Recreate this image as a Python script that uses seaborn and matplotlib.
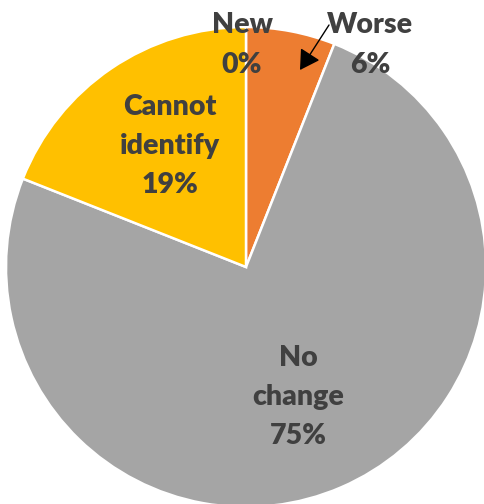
import matplotlib
matplotlib.use("Agg")
import matplotlib.pyplot as plt
import seaborn as sns

sns.set_theme(style="white")
plt.rcParams["font.family"] = ["Lato", "DejaVu Sans"]

categories = ["New", "Worse", "No change", "Cannot identify"]
shares = [0, 6, 75, 19]
colors = ["#4472C4", "#ED7D31", "#A5A5A5", "#FFC000"]
text_color = "#404040"

W, H = 484, 504
R = 240.0          # pie radius in pixels
cx, cy = 246, 267  # pie centre in pixels (from top-left)

fig = plt.figure(figsize=(W / 100, H / 100), dpi=100)
ax = fig.add_axes([0, 0, 1, 1])
wedges, _ = ax.pie(
    shares, colors=colors, startangle=90, counterclock=False,
    wedgeprops=dict(edgecolor="white", linewidth=1.8),
)
ax.set_xlim(-cx / R, (W - cx) / R)
ax.set_ylim(-(H - cy) / R, cy / R)
ax.axis("off")


def px(x, y):
    return ((x - cx) / R, (cy - y) / R)


labels = {
    "New": ("New\n0%", (242, 45)),
    "Worse": ("Worse\n6%", (370, 45)),
    "No change": ("No\nchange\n75%", (298, 397)),
    "Cannot identify": ("Cannot\nidentify\n19%", (170, 146)),
}
for name, val in zip(categories, shares):
    txt, pos = labels[name]
    ax.text(*px(*pos), txt, ha="center", va="center", fontsize=20.5,
            fontweight="heavy", color=text_color, linespacing=1.62)

ax.annotate("", xy=px(300, 70), xytext=px(329, 25),
            arrowprops=dict(arrowstyle="-|>,head_length=0.6,head_width=0.35",
                            color="black", lw=1.0,
                            mutation_scale=20, shrinkA=0, shrinkB=0))

fig.savefig("out.png", dpi=100)
